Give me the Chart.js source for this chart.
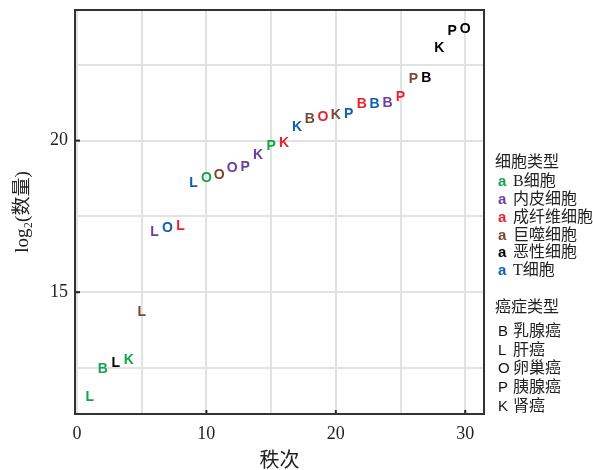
<!DOCTYPE html>
<html>
<head>
<meta charset="utf-8">
<script src="https://cdn.jsdelivr.net/npm/chart.js@4.4.1/dist/chart.umd.min.js"></script>
<style>
html,body{margin:0;padding:0;background:#fff;}
#wrap{width:593px;height:470px;position:relative;}
</style>
</head>
<body>
<div id="wrap"><canvas id="c" width="593" height="470"></canvas></div>
<script>
const ranks = [1,2,3,4,5,6,7,8,9,10,11,12,13,14,15,16,17,18,19,20,21,22,23,24,25,26,27,28,29,30];
const log2Counts = [11.54,12.45,12.65,12.75,14.35,16.97,17.11,17.18,18.59,18.76,18.85,19.09,19.14,19.53,19.83,19.91,20.44,20.72,20.79,20.85,20.87,21.20,21.20,21.25,21.45,22.03,22.06,23.05,23.62,23.69];
const cancerCodes = ['L','B','L','K','L','L','O','L','L','O','O','O','P','K','P','K','K','B','O','K','P','B','B','B','P','P','B','K','P','O'];
const cellIdx = [0,0,4,0,3,1,5,2,5,0,3,1,1,1,0,2,5,3,2,3,5,2,5,1,2,3,4,4,4,4];
const cellTypes = ['B细胞','内皮细胞','成纤维细胞','巨噬细胞','恶性细胞','T细胞'];
const cellColors = ['#12a54a','#6b3fa0','#ee1f2b','#7a4636','#000000','#0f5fb3'];
const cancerLetters = ['B','L','O','P','K'];
const cancerNames = ['乳腺癌','肝癌','卵巢癌','胰腺癌','肾癌'];
const xTicks = [0,5,10,15,20,25,30];
const xLabels = [0,10,20,30];
const yTicks = [12.5,15,17.5,20,22.5];
const yLabels = [15,20];

const datasets = cellTypes.map((name, k) => {
  const pts = [];
  ranks.forEach((r, i) => { if (cellIdx[i] === k) pts.push({x: r, y: log2Counts[i], code: cancerCodes[i]}); });
  return {label: name, data: pts, pointRadius: 0, pointHoverRadius: 0, color: cellColors[k], borderColor: cellColors[k], backgroundColor: cellColors[k]};
});

const SERIF = '"Liberation Serif","Noto Sans CJK SC",serif';
const SANS = '"Liberation Sans",Arial,sans-serif';

const letterPlugin = {
  id: 'letters',
  afterDatasetsDraw(chart) {
    const ctx = chart.ctx;
    ctx.save();
    ctx.font = 'bold 14px ' + SANS;
    ctx.textAlign = 'center';
    ctx.textBaseline = 'middle';
    chart.data.datasets.forEach((ds, di) => {
      const meta = chart.getDatasetMeta(di);
      meta.data.forEach((el, i) => {
        ctx.fillStyle = ds.color;
        ctx.fillText(ds.data[i].code, el.x, el.y);
      });
    });
    ctx.restore();
  },
  afterDraw(chart) {
    const ctx = chart.ctx;
    const a = chart.chartArea;
    const xs = chart.scales.x, ys = chart.scales.y;
    ctx.save();
    ctx.strokeStyle = '#222';
    ctx.lineWidth = 2;
    xLabels.forEach(v => {
      if (v === 0) return;
      const px = xs.getPixelForValue(v);
      ctx.beginPath(); ctx.moveTo(px, a.bottom); ctx.lineTo(px, a.bottom - 4); ctx.stroke();
    });
    yLabels.forEach(v => {
      const py = ys.getPixelForValue(v);
      ctx.beginPath(); ctx.moveTo(a.left, py); ctx.lineTo(a.left + 5, py); ctx.stroke();
    });
    ctx.strokeStyle = '#333';
    ctx.lineWidth = 2;
    ctx.strokeRect(a.left, a.top, a.right - a.left, a.bottom - a.top);
    ctx.textBaseline = 'middle';
    ctx.textAlign = 'left';
    ctx.fillStyle = '#222';
    ctx.font = '16px ' + SERIF;
    ctx.fillText('细胞类型', 495, 163);
    cellTypes.forEach((name, k) => {
      const y = 182 + k * 17.8;
      ctx.font = 'bold 15px ' + SANS;
      ctx.fillStyle = cellColors[k];
      ctx.fillText('a', 498, y);
      ctx.font = '16px ' + SERIF;
      ctx.fillStyle = '#222';
      ctx.fillText(name, 513, y);
    });
    ctx.font = '16px ' + SERIF;
    ctx.fillStyle = '#222';
    ctx.fillText('癌症类型', 495, 308);
    cancerLetters.forEach((c, k) => {
      const y = 332 + k * 18.6;
      ctx.font = '15px ' + SANS;
      ctx.fillStyle = '#111';
      ctx.fillText(c, 498, y);
      ctx.font = '16px ' + SERIF;
      ctx.fillStyle = '#222';
      ctx.fillText(cancerNames[k], 513, y);
    });
    ctx.restore();
  }
};

new Chart(document.getElementById('c'), {
  type: 'scatter',
  data: {datasets},
  plugins: [letterPlugin],
  options: {
    responsive: false,
    animation: false,
    events: [],
    layout: {padding: {left: 0, top: 10, right: 109, bottom: 0}},
    plugins: {legend: {display: false}, tooltip: {enabled: false}},
    scales: {
      x: {
        type: 'linear', min: -0.15, max: 31.45,
        afterBuildTicks(s) { s.ticks = xTicks.map(v => ({value: v})); },
        afterFit(s) { s.height = 56; s.paddingLeft = 0; s.paddingRight = 0; },
        grid: {color: '#e2e2e2', lineWidth: 2, drawTicks: false},
        border: {display: false},
        ticks: {
          padding: 9, color: '#222', font: {family: SERIF, size: 18},
          maxRotation: 0, autoSkip: false,
          callback: v => xLabels.includes(v) ? String(v) : ''
        },
        title: {display: true, text: '秩次', color: '#222', font: {family: SERIF, size: 20, lineHeight: 1}, padding: {top: 0, bottom: -2}}
      },
      y: {
        type: 'linear', min: 10.98, max: 24.31,
        afterBuildTicks(s) { s.ticks = yTicks.map(v => ({value: v})); },
        afterFit(s) { s.width = 75; s.paddingTop = 0; s.paddingBottom = 0; },
        grid: {color: '#e2e2e2', lineWidth: 2, drawTicks: false},
        border: {display: false},
        ticks: {
          padding: 7, color: '#222', font: {family: SERIF, size: 18},
          autoSkip: false,
          callback: v => yLabels.includes(v) ? String(v) : ''
        },
        title: {display: true, text: 'log₂(数量)', color: '#222', font: {family: SERIF, size: 19}, padding: {top: 12, bottom: 4}}
      }
    }
  }
});
</script>
</body>
</html>
